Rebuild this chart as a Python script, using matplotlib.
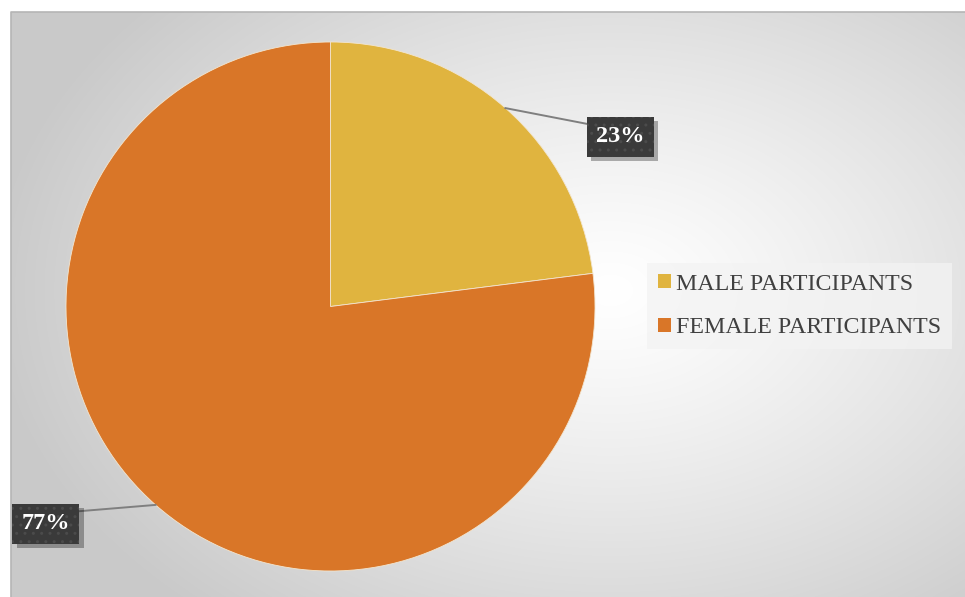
import numpy as np
import matplotlib
matplotlib.use("Agg")
import matplotlib.pyplot as plt
import matplotlib.patheffects as pe

# Data
categories = ["MALE PARTICIPANTS", "FEMALE PARTICIPANTS"]
shares = [23, 77]
colors = ["#E0B43F", "#D97628"]

W, H = 965, 597
fig = plt.figure(figsize=(W / 100, H / 100), dpi=100)
fig.patch.set_facecolor("white")

# Chart area with a soft radial gradient
bg = fig.add_axes([11 / W, 0, (W - 11) / W, (H - 12) / H])
bg.set_axis_off()
nx, ny = W - 11, H - 12
xx, yy = np.meshgrid(np.arange(nx) + 11, np.arange(ny) + 12)
cx, cy, rx, ry = 610, 290, 620, 430
d = np.sqrt(((xx - cx) / rx) ** 2 + ((yy - cy) / ry) ** 2)
shade = 1 - 0.21 * np.clip(d, 0, 1) ** 1.2
bg.imshow(np.dstack([shade] * 3), aspect="auto", extent=(0, 1, 0, 1), origin="upper")
bg.set_xlim(0, 1)
bg.set_ylim(0, 1)
bg.plot([0, 0, 1], [0, 1, 1], color="#b5b5b5", lw=1.2, transform=bg.transAxes, clip_on=False)

# Pie
r_px = 264.5
pcx, pcy = 330.5, 306.5
ax = fig.add_axes([(pcx - r_px) / W, (H - pcy - r_px) / H, 2 * r_px / W, 2 * r_px / H])
ax.set_axis_off()
wedges, _ = ax.pie(shares, colors=colors, startangle=90, counterclock=False,
                   radius=1, wedgeprops=dict(edgecolor="#f3e6d0", linewidth=0.6))
ax.set_xlim(-1, 1)
ax.set_ylim(-1, 1)

# Data labels in dark textured boxes with leader lines
label_pos = [(1.095, 0.641), (-1.076, -0.822)]
line_end = [(0.972, 0.690), (-0.962, -0.775)]
font = dict(ha="center", va="center", fontsize=17.5, fontweight="bold",
            family="Liberation Serif")
box = dict(boxstyle="square,pad=0.38", linewidth=0)
for w, val, (lx, ly), (ex, ey) in zip(wedges, shares, label_pos, line_end):
    mid = np.deg2rad((w.theta1 + w.theta2) / 2)
    sx, sy = np.cos(mid), np.sin(mid)
    ax.plot([sx, ex], [sy, ey], color="#7f7f7f", lw=1.4, clip_on=False, zorder=3)
    base = ax.text(lx, ly, f"{val}%", color="#3a3a3a", zorder=4, **font,
                   bbox=dict(facecolor="#3a3a3a", edgecolor="#3a3a3a", **box))
    base.get_bbox_patch().set_path_effects([
        pe.SimplePatchShadow(offset=(3, -3), shadow_rgbFace="#000000", alpha=0.3),
        pe.Normal()])
    ax.text(lx, ly, f"{val}%", color="white", zorder=5, **font,
            bbox=dict(facecolor="none", edgecolor="#4b4b4b", hatch="..", **box))

# Legend
leg = fig.legend(wedges, categories, loc="upper left",
                 bbox_to_anchor=(647 / W, 1 - 263 / H), frameon=True,
                 fancybox=False, facecolor="#f3f3f3", edgecolor="none", framealpha=0.75,
                 prop=dict(family="Liberation Serif", size=17.2),
                 handlelength=0.55, handleheight=0.55, handletextpad=0.2,
                 labelspacing=0.95, borderpad=0.45, borderaxespad=0)
for txt in leg.get_texts():
    txt.set_color("#404040")
for h in leg.legend_handles:
    h.set_edgecolor("none")

fig.savefig("out.png", dpi=100, facecolor="white")
